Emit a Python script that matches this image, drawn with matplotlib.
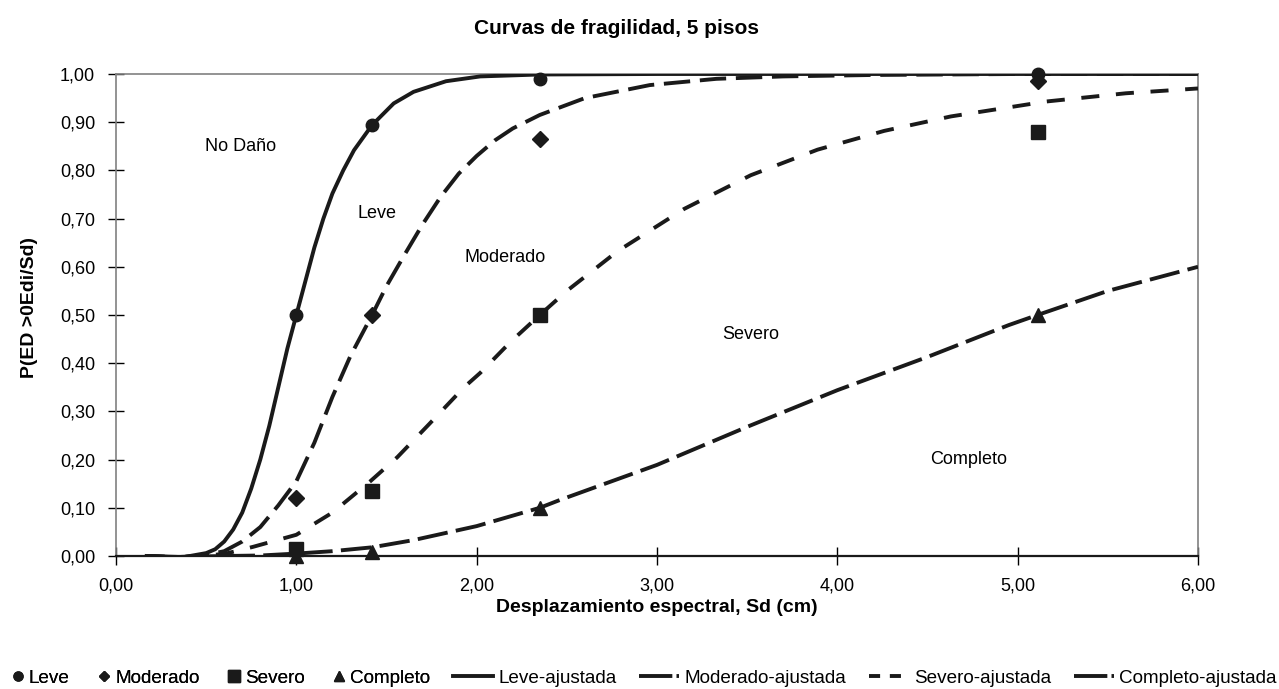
import matplotlib.pyplot as plt
from matplotlib.lines import Line2D
from matplotlib.ticker import FuncFormatter

plt.rcParams['font.family'] = ['Liberation Sans', 'DejaVu Sans']
plt.rcParams['lines.scale_dashes'] = False

# puntos observados (Sd en cm)
sd_obs = [1.00, 1.42, 2.35, 5.11]
leve_obs = [0.50, 0.895, 0.99, 1.00]
moderado_obs = [0.12, 0.50, 0.865, 0.985]
severo_obs = [0.015, 0.135, 0.50, 0.88]
completo_obs = [0.0, 0.008, 0.10, 0.50]

# curvas ajustadas
leve_x = [0.17, 0.35, 0.50, 0.55, 0.60, 0.65, 0.70, 0.75, 0.80, 0.85, 0.90, 0.95, 1.00,
          1.05, 1.10, 1.15, 1.20, 1.26, 1.32, 1.42, 1.54, 1.65, 1.83, 2.02, 2.35,
          3.00, 4.00, 5.11, 6.00]
leve_y = [0.0, -0.004, 0.006, 0.014, 0.03, 0.055, 0.09, 0.14, 0.20, 0.27, 0.35, 0.43, 0.50,
          0.57, 0.64, 0.70, 0.752, 0.80, 0.842, 0.894, 0.939, 0.963, 0.985, 0.995, 0.999,
          1.0, 1.0, 1.0, 1.0]

moderado_x = [0.17, 0.35, 0.50, 0.60, 0.70, 0.80, 0.90, 1.00, 1.10, 1.20, 1.30, 1.42,
              1.50, 1.60, 1.70, 1.80, 1.90, 2.00, 2.10, 2.20, 2.35, 2.60, 2.96, 3.33,
              3.70, 4.20, 5.00, 6.00]
moderado_y = [0.0, -0.003, 0.002, 0.01, 0.03, 0.06, 0.105, 0.155, 0.235, 0.33, 0.415, 0.50,
              0.56, 0.625, 0.688, 0.745, 0.793, 0.83, 0.862, 0.887, 0.915, 0.95, 0.977, 0.99,
              0.995, 0.998, 1.0, 1.0]

severo_x = [0.17, 0.35, 0.50, 0.62, 0.76, 1.00, 1.20, 1.41, 1.56, 1.74, 1.93, 2.02,
            2.19, 2.35, 2.50, 2.78, 3.15, 3.52, 3.89, 4.26, 4.63, 5.16, 5.60, 6.00]
severo_y = [0.0, -0.002, 0.0, 0.006, 0.019, 0.044, 0.09, 0.155, 0.205, 0.275, 0.35, 0.38,
            0.445, 0.50, 0.55, 0.632, 0.72, 0.79, 0.843, 0.882, 0.912, 0.943, 0.96, 0.97]

completo_x = [0.17, 0.35, 0.60, 0.80, 1.00, 1.20, 1.42, 1.65, 2.00, 2.35, 2.46, 3.00,
              3.50, 4.00, 4.50, 4.95, 5.11, 5.50, 6.00]
completo_y = [0.0, -0.002, 0.0, 0.001, 0.005, 0.01, 0.018, 0.033, 0.062, 0.10, 0.116, 0.189,
              0.268, 0.344, 0.413, 0.479, 0.50, 0.55, 0.60]

ticks_x = [0, 1, 2, 3, 4, 5, 6]
ticks_y = [0.0, 0.1, 0.2, 0.3, 0.4, 0.5, 0.6, 0.7, 0.8, 0.9, 1.0]

ink = '#1a1a1a'
lw = 2.8
dash_mod = (0, (19.0, 7.0))
dash_sev = (0, (13.0, 12.0))
dash_com = (0, (22.0, 6.0))

fig = plt.figure(figsize=(12.79, 6.89), dpi=100)
ax = fig.add_axes([116/1279, 1 - 556/689, 1082/1279, 482/689])

ax.plot(leve_x, leve_y, color=ink, lw=lw, ls='-', zorder=3)
ax.plot(moderado_x, moderado_y, color=ink, lw=lw, ls=dash_mod, zorder=3)
ax.plot(severo_x, severo_y, color=ink, lw=lw, ls=dash_sev, zorder=3)
ax.plot(completo_x, completo_y, color=ink, lw=lw, ls=dash_com, zorder=3)

ax.plot(sd_obs, leve_obs, 'o', color=ink, ms=9, clip_on=False, zorder=4)
ax.plot(sd_obs, moderado_obs, 'D', color=ink, ms=8, clip_on=False, zorder=4)
ax.plot(sd_obs, severo_obs, 's', color=ink, ms=10, clip_on=False, zorder=4)
ax.plot(sd_obs, completo_obs, '^', color=ink, ms=10, clip_on=False, zorder=4)

ax.set_xlim(0, 6)
ax.set_ylim(0, 1.0)
ax.set_xticks(ticks_x)
ax.set_yticks(ticks_y)
coma = FuncFormatter(lambda v, pos: f'{v:.2f}'.replace('.', ','))
ax.xaxis.set_major_formatter(coma)
ax.yaxis.set_major_formatter(coma)
ax.tick_params(axis='x', direction='inout', length=13, width=1, labelsize=13, pad=9)
ax.tick_params(axis='y', direction='inout', length=12, width=1, labelsize=13, pad=9)

for side in ['left', 'right', 'top']:
    ax.spines[side].set_color('#808080')
    ax.spines[side].set_linewidth(1.2)
ax.spines['bottom'].set_color(ink)
ax.spines['bottom'].set_linewidth(1.6)

# zonas de dano
ax.text(0.69, 0.85, 'No Daño', fontsize=13, ha='center', va='center')
ax.text(1.45, 0.71, 'Leve', fontsize=13, ha='center', va='center')
ax.text(2.16, 0.62, 'Moderado', fontsize=13, ha='center', va='center')
ax.text(3.52, 0.46, 'Severo', fontsize=13, ha='center', va='center')
ax.text(4.73, 0.20, 'Completo', fontsize=13, ha='center', va='center')

fig.text(616/1279, 1 - 29/689, 'Curvas de fragilidad, 5 pisos', fontsize=15,
         fontweight='bold', ha='center', va='center')
fig.text(657/1279, 1 - 607/689, 'Desplazamiento espectral, Sd (cm)', fontsize=14,
         fontweight='bold', ha='center', va='center')
fig.text(30/1279, 1 - 308/689, 'P(ED >0Edi/Sd)', fontsize=14, fontweight='bold',
         rotation=90, ha='center', va='center')

# leyenda inferior: puntos y curvas
pts = [Line2D([], [], ls='none', marker='o', color=ink, ms=6.5),
       Line2D([], [], ls='none', marker='D', color=ink, ms=5.5),
       Line2D([], [], ls='none', marker='s', color=ink, ms=8),
       Line2D([], [], ls='none', marker='^', color=ink, ms=7)]
leg1 = fig.legend(pts, ['Leve', 'Moderado', 'Severo', 'Completo'], loc='lower left',
                  bbox_to_anchor=(12/1279, 2/689), ncol=4, frameon=False, fontsize=13.6,
                  handlelength=0.6, handletextpad=0.3, columnspacing=1.5,
                  borderpad=0, borderaxespad=0)
curvas = [Line2D([], [], color=ink, lw=lw, ls='-'),
          Line2D([], [], color=ink, lw=lw, ls=(0, (24.0, 3.0, 2.0, 10.0))),
          Line2D([], [], color=ink, lw=lw, ls=(0, (8.0, 7.0))),
          Line2D([], [], color=ink, lw=lw, ls=(0, (24.0, 3.0, 2.0, 10.0)))]
fig.legend(curvas, ['Leve-ajustada', 'Moderado-ajustada', 'Severo-ajustada', 'Completo-ajustada'],
           loc='lower right', bbox_to_anchor=(1277/1279, 2/689), ncol=4, frameon=False,
           fontsize=13.6, handlelength=2.1, handletextpad=0.3, columnspacing=1.2,
           borderpad=0, borderaxespad=0)
fig.add_artist(leg1)

fig.savefig('out.png', dpi=100)
